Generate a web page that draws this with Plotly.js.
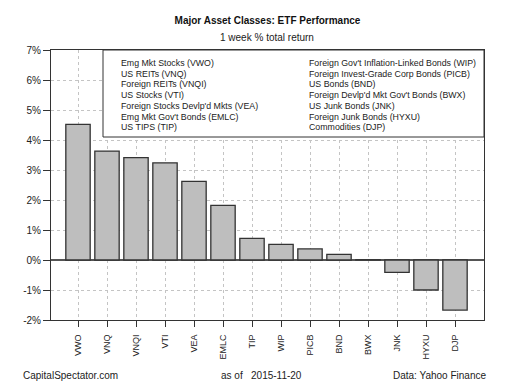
<!DOCTYPE html>
<html>
<head>
<meta charset="utf-8">
<script src="https://cdn.plot.ly/plotly-3.0.1.min.js"></script>
<style>html,body{margin:0;padding:0;background:#fff}#chart{width:510px;height:383px}</style>
</head>
<body>
<div id="chart"></div>
<script>
var tickers = ["VWO","VNQ","VNQI","VTI","VEA","EMLC","TIP","WIP","PICB","BND","BWX","JNK","HYXU","DJP"];
var returns = [4.52, 3.63, 3.41, 3.24, 2.62, 1.82, 0.72, 0.52, 0.37, 0.19, 0.01, -0.41, -1.0, -1.67];
var legendLeft = ["Emg Mkt Stocks (VWO)","US REITs (VNQ)","Foreign REITs (VNQI)","US Stocks (VTI)","Foreign Stocks Devlp'd Mkts (VEA)","Emg Mkt Gov't Bonds (EMLC)","US TIPS (TIP)"];
var legendRight = ["Foreign Gov't Inflation-Linked Bonds (WIP)","Foreign Invest-Grade Corp Bonds (PICB)","US Bonds (BND)","Foreign Devlp'd Mkt Gov't Bonds (BWX)","US Junk Bonds (JNK)","Foreign Junk Bonds (HYXU)","Commodities (DJP)"];
var yTickVals = [-2,-1,0,1,2,3,4,5,6,7];
var yTickText = ["-2%","-1%","0%","1%","2%","3%","4%","5%","6%","7%"];

var FONT = "Liberation Sans, Arial, sans-serif";
var xs = tickers.map(function(_, i){ return i; });

var annotations = [];
function addLegendCol(arr, x0) {
  arr.forEach(function(t, i){
    annotations.push({xref:'x', yref:'y', x:x0, y:6.567 - i*0.357, text:t, showarrow:false,
      xanchor:'left', yanchor:'middle', font:{family:FONT, size:8.8, color:'#222'}});
  });
}
addLegendCol(legendLeft, 1.41);
addLegendCol(legendRight, 7.9);

function px(x){ return (x-51)/433; }
function py(y){ return (320-y)/270; }
annotations.push({xref:'paper', yref:'paper', x:px(267), y:py(38), text:'1 week % total return', showarrow:false,
  xanchor:'center', yanchor:'middle', font:{family:FONT, size:10, color:'#222'}});
annotations.push({xref:'paper', yref:'paper', x:px(21), y:py(375), text:'CapitalSpectator.com', showarrow:false,
  xanchor:'left', yanchor:'middle', font:{family:FONT, size:10, color:'#222'}});
annotations.push({xref:'paper', yref:'paper', x:px(219), y:py(375), text:'as of &nbsp; 2015-11-20', showarrow:false,
  xanchor:'left', yanchor:'middle', font:{family:FONT, size:10, color:'#222'}});
annotations.push({xref:'paper', yref:'paper', x:px(488), y:py(375), text:'Data: Yahoo Finance', showarrow:false,
  xanchor:'right', yanchor:'middle', font:{family:FONT, size:10, color:'#222'}});

var trace = {
  type:'bar', x:xs, y:returns, width:0.84,
  marker:{color:'#bebebe', line:{color:'#333', width:1.3}},
  hoverinfo:'none'
};

var layout = {
  width:510, height:383,
  margin:{l:51, r:26, t:50, b:63, pad:0},
  paper_bgcolor:'#fff', plot_bgcolor:'#fff',
  showlegend:false,
  font:{family:FONT, color:'#222'},
  title:{text:'<b>Major Asset Classes: ETF Performance</b>', font:{family:FONT, size:10, color:'#111'},
    xref:'paper', x:0.5, xanchor:'center', yref:'container', y:1-20/383, yanchor:'middle'},
  xaxis:{range:[-0.931, 14.0], tickvals:xs, ticktext:tickers, tickangle:-90,
    ticks:'outside', ticklen:6, tickcolor:'#333', ticklabelstandoff:4, tickfont:{family:FONT, size:9, color:'#222'},
    showgrid:true, gridcolor:'#c4c4c4', griddash:'dot', gridwidth:1,
    showline:true, linecolor:'#333', linewidth:1, mirror:true, zeroline:false, fixedrange:true},
  yaxis:{range:[-2, 7], tickvals:yTickVals, ticktext:yTickText,
    ticks:'outside', ticklen:7, tickcolor:'#333', tickfont:{family:FONT, size:10, color:'#222'},
    showgrid:true, gridcolor:'#c4c4c4', griddash:'dot', gridwidth:1,
    showline:true, linecolor:'#333', linewidth:1, mirror:true,
    zeroline:true, zerolinecolor:'#555', zerolinewidth:1.6, fixedrange:true},
  shapes:[{type:'rect', xref:'x', yref:'y', x0:0.862, x1:14.0, y0:4.1, y1:7,
    fillcolor:'#fff', line:{color:'#333', width:1}, layer:'above'}],
  annotations:annotations
};

Plotly.newPlot('chart', [trace], layout, {staticPlot:true, displayModeBar:false});
</script>
</body>
</html>
